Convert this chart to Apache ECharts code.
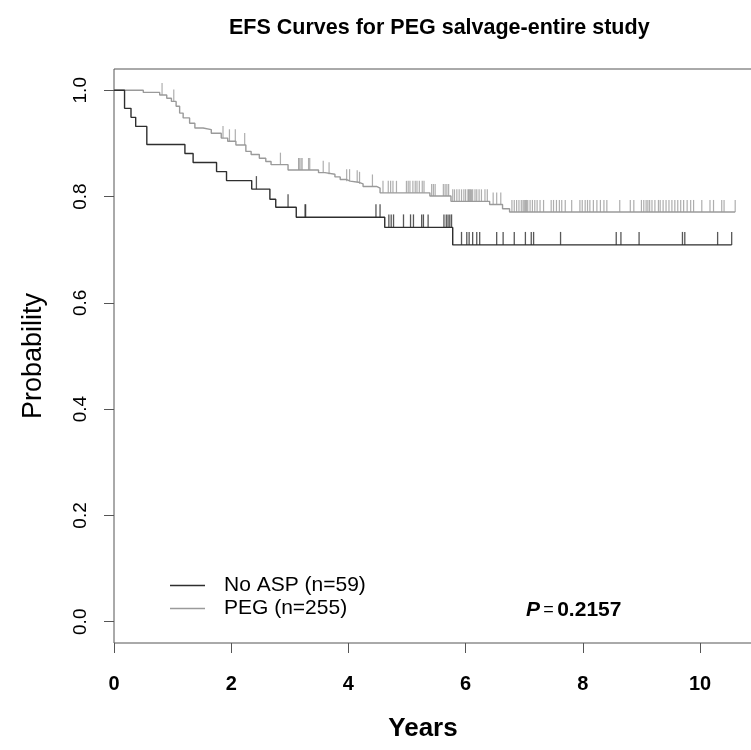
<!DOCTYPE html>
<html>
<head>
<meta charset="utf-8">
<script src="https://cdn.jsdelivr.net/npm/echarts@6/dist/echarts.min.js"></script>
<style>
  html, body { margin: 0; padding: 0; background: #fff; }
  #chart { width: 751px; height: 750px; }
</style>
</head>
<body>
<div id="chart"></div>
<script>
// Kaplan-Meier step points (time in years, survival after the drop)
const noAspTime = [0, 0.18, 0.29, 0.37, 0.56, 1.21, 1.35, 1.75, 1.92, 2.35, 2.66, 2.76, 3.11, 4.62, 5.78, 10.54];
const noAspSurv = [1.0, 0.966, 0.949, 0.932, 0.898, 0.881, 0.864, 0.847, 0.830, 0.814, 0.795, 0.780, 0.761, 0.742, 0.709, 0.709];
const noAspCensor = [2.43, 2.97, 3.26, 3.27, 4.47, 4.54, 4.69, 4.73, 4.77, 4.94, 5.06, 5.11, 5.25, 5.28, 5.36,
  5.63, 5.67, 5.70, 5.73, 5.76, 5.93, 6.02, 6.06, 6.12, 6.19, 6.24, 6.53, 6.64, 6.83, 7.02, 7.12, 7.16,
  7.62, 8.57, 8.65, 8.96, 9.70, 9.74, 10.30, 10.54];

const pegTime = [0, 0.50, 0.78, 0.90, 0.98, 1.06, 1.12, 1.18, 1.29, 1.38, 1.52, 1.66, 1.83, 1.94, 2.08, 2.25,
  2.34, 2.48, 2.59, 2.68, 2.97, 3.49, 3.60, 3.77, 3.86, 3.97, 4.03, 4.17, 4.25, 4.48, 4.54, 5.39, 5.75,
  6.41, 6.63, 6.75, 10.60];
const pegSurv = [1.0, 0.996, 0.991, 0.985, 0.979, 0.970, 0.957, 0.948, 0.938, 0.929, 0.926, 0.919, 0.910, 0.904,
  0.897, 0.885, 0.879, 0.872, 0.866, 0.860, 0.850, 0.845, 0.842, 0.837, 0.832, 0.829, 0.827, 0.824, 0.819,
  0.816, 0.807, 0.801, 0.791, 0.785, 0.777, 0.771, 0.771];
const pegCensor = [0.82, 1.02, 1.86, 1.97, 2.07, 2.23, 2.84, 3.15, 3.16, 3.19, 3.21, 3.32, 3.34, 3.57, 3.67,
  3.97, 4.02, 4.15, 4.19, 4.41, 4.59, 4.68, 4.72, 4.76, 4.82, 4.99, 5.02, 5.05, 5.10, 5.14, 5.17, 5.21,
  5.26, 5.29, 5.42, 5.45, 5.48, 5.62, 5.65, 5.68, 5.71, 5.78, 5.81, 5.85, 5.89, 5.93, 5.97, 6.00, 6.04,
  6.05, 6.07, 6.08, 6.10, 6.12, 6.16, 6.19, 6.23, 6.27, 6.33, 6.37, 6.47, 6.53, 6.60, 6.79, 6.83, 6.87,
  6.91, 6.95, 6.98, 7.00, 7.02, 7.04, 7.06, 7.10, 7.14, 7.18, 7.22, 7.27, 7.33, 7.46, 7.50, 7.55, 7.60,
  7.64, 7.70, 7.81, 7.95, 7.99, 8.04, 8.08, 8.12, 8.18, 8.24, 8.30, 8.36, 8.41, 8.63, 8.81, 8.87, 9.00,
  9.04, 9.08, 9.11, 9.14, 9.18, 9.23, 9.29, 9.32, 9.37, 9.42, 9.47, 9.52, 9.57, 9.62, 9.67, 9.72, 9.78,
  9.84, 9.89, 10.03, 10.17, 10.23, 10.37, 10.41, 10.60];

const xTicks = [0, 2, 4, 6, 8, 10];
const yTicks = [0, 0.2, 0.4, 0.6, 0.8, 1.0];
const groupNames = ['No ASP (n=59)', 'PEG (n=255)'];

const darkCol = '#2e2e2e';
const greyCol = '#9a9a9a';
const axisCol = '#555';
const font = 'Liberation Sans, Arial, sans-serif';

// curve level at time t (last step at or before t)
function survAt(times, surv, t) {
  let v = surv[0];
  for (let i = 0; i < times.length; i++) {
    if (times[i] <= t) v = surv[i];
  }
  return v;
}

function stepData(times, surv) {
  return times.map((t, i) => [t, surv[i]]);
}

function censorData(times, surv, cens) {
  return cens.map(t => [t, survAt(times, surv, t)]);
}

const chart = echarts.init(document.getElementById('chart'), null, { renderer: 'canvas' });

const option = {
  animation: false,
  title: {
    text: 'EFS Curves for PEG salvage-entire study',
    left: 224,
    top: 12,
    textStyle: { fontFamily: font, fontSize: 21.5, fontWeight: 'bold', color: '#000' }
  },
  grid: {
    left: 114, top: 69, right: -5, bottom: 107,
    outerBoundsMode: 'none',
    containLabel: false,
    show: true, borderColor: axisCol, borderWidth: 1
  },
  legend: {
    orient: 'vertical',
    left: 165,
    top: 570,
    itemWidth: 35,
    itemHeight: 1.5,
    itemGap: 2,
    textStyle: { fontFamily: font, fontSize: 21, color: '#000', lineHeight: 21, padding: [0, 0, 0, 14] },
    data: [
      { name: groupNames[0], icon: 'rect', itemStyle: { color: darkCol } },
      { name: groupNames[1], icon: 'rect', itemStyle: { color: greyCol } }
    ]
  },
  xAxis: {
    type: 'value',
    min: 0,
    max: 10.955,
    name: 'Years',
    nameLocation: 'middle',
    nameGap: 73,
    nameTextStyle: { fontFamily: font, fontSize: 26, fontWeight: 'bold', color: '#000', padding: [0, 24, 0, 0] },
    axisLine: { show: false, onZero: false },
    axisTick: { show: true, length: 10, customValues: xTicks, lineStyle: { color: axisCol } },
    axisLabel: { customValues: xTicks, margin: 31, fontFamily: font, fontSize: 20, fontWeight: 'bold', color: '#000' },
    splitLine: { show: false }
  },
  yAxis: {
    type: 'value',
    min: -0.04,
    max: 1.04,
    name: 'Probability',
    nameLocation: 'middle',
    nameGap: 67,
    nameRotate: 90,
    nameTextStyle: { fontFamily: font, fontSize: 27, color: '#000' },
    axisLine: { show: false, onZero: false },
    axisTick: { show: true, length: 10, customValues: yTicks, lineStyle: { color: axisCol } },
    axisLabel: {
      customValues: yTicks, rotate: 90, margin: 24,
      fontFamily: font, fontSize: 19, color: '#000',
      formatter: v => v.toFixed(1)
    },
    splitLine: { show: false }
  },
  graphic: [{
    type: 'text',
    left: 526,
    top: 600,
    style: {
      text: '{i|P} {e|=} {b|0.2157}',
      rich: {
        i: { fontFamily: font, fontSize: 21, fontStyle: 'italic', fontWeight: 'bold', fill: '#000' },
        e: { fontFamily: font, fontSize: 18, fill: '#000' },
        b: { fontFamily: font, fontSize: 21, fontWeight: 'bold', fill: '#000' }
      }
    }
  }],
  series: [
    {
      name: groupNames[1],
      type: 'line',
      step: 'end',
      showSymbol: false,
      data: stepData(pegTime, pegSurv),
      lineStyle: { color: greyCol, width: 1.4 },
      itemStyle: { color: greyCol },
      z: 2
    },
    {
      name: groupNames[1] + ' censored',
      type: 'scatter',
      symbol: 'rect',
      symbolSize: [1.2, 12],
      symbolOffset: [0, '-50%'],
      data: censorData(pegTime, pegSurv, pegCensor),
      itemStyle: { color: greyCol },
      z: 2
    },
    {
      name: groupNames[0],
      type: 'line',
      step: 'end',
      showSymbol: false,
      data: stepData(noAspTime, noAspSurv),
      lineStyle: { color: darkCol, width: 1.4 },
      itemStyle: { color: darkCol },
      z: 3
    },
    {
      name: groupNames[0] + ' censored',
      type: 'scatter',
      symbol: 'rect',
      symbolSize: [1.3, 13],
      symbolOffset: [0, '-50%'],
      data: censorData(noAspTime, noAspSurv, noAspCensor),
      itemStyle: { color: darkCol },
      z: 3
    }
  ]
};

chart.setOption(option);
</script>
</body>
</html>
